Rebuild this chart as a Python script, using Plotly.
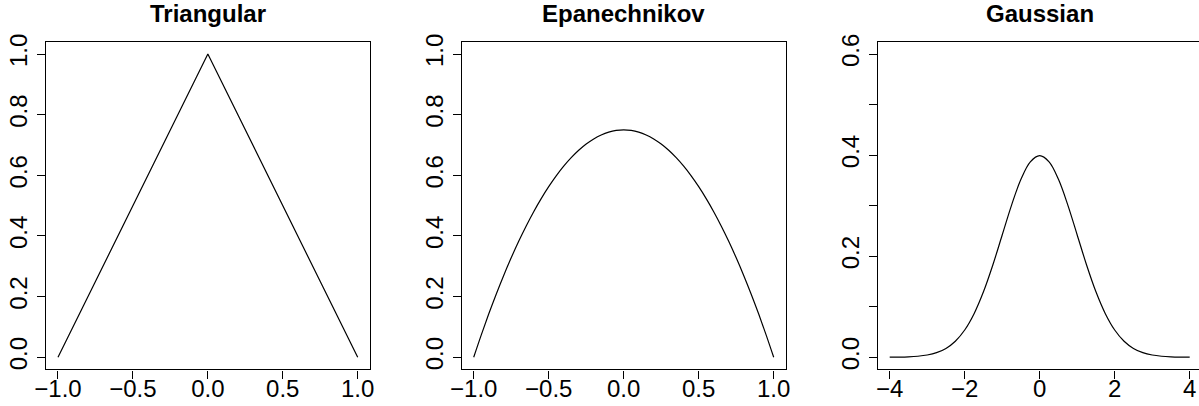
import plotly.graph_objects as go

# ---- data ----
tri_x = [-1.0, 0.0, 1.0]
tri_y = [0.0, 1.0, 0.0]

epa_x = [-1.0, -0.95, -0.9, -0.85, -0.8, -0.75, -0.7, -0.65, -0.6, -0.55, -0.5, -0.45, -0.4, -0.35, -0.3, -0.25, -0.2, -0.15, -0.1, -0.05,
         0.0, 0.05, 0.1, 0.15, 0.2, 0.25, 0.3, 0.35, 0.4, 0.45, 0.5, 0.55, 0.6, 0.65, 0.7, 0.75, 0.8, 0.85, 0.9, 0.95, 1.0]
epa_y = [0.0, 0.0731, 0.1425, 0.2081, 0.27, 0.3281, 0.3825, 0.4331, 0.48, 0.5231, 0.5625, 0.5981, 0.63, 0.6581, 0.6825, 0.7031, 0.72, 0.7331, 0.7425, 0.7481,
         0.75, 0.7481, 0.7425, 0.7331, 0.72, 0.7031, 0.6825, 0.6581, 0.63, 0.5981, 0.5625, 0.5231, 0.48, 0.4331, 0.3825, 0.3281, 0.27, 0.2081, 0.1425, 0.0731, 0.0]

gau_x = [-4.0, -3.75, -3.5, -3.25, -3.0, -2.75, -2.5, -2.25, -2.0, -1.75, -1.5, -1.25, -1.0, -0.75, -0.5, -0.25,
         0.0, 0.25, 0.5, 0.75, 1.0, 1.25, 1.5, 1.75, 2.0, 2.25, 2.5, 2.75, 3.0, 3.25, 3.5, 3.75, 4.0]
gau_y = [0.00013, 0.00035, 0.00087, 0.00203, 0.00443, 0.00909, 0.01753, 0.03174, 0.05399, 0.08628, 0.12952, 0.18265, 0.24197, 0.30114, 0.35207, 0.38667,
         0.39894, 0.38667, 0.35207, 0.30114, 0.24197, 0.18265, 0.12952, 0.08628, 0.05399, 0.03174, 0.01753, 0.00909, 0.00443, 0.00203, 0.00087, 0.00035, 0.00013]

titles = ["Triangular", "Epanechnikov", "Gaussian"]

x12_ticks = [-1.0, -0.5, 0.0, 0.5, 1.0]
x12_text = ["\u22121.0", "\u22120.5", "0.0", "0.5", "1.0"]
y12_ticks = [0.0, 0.2, 0.4, 0.6, 0.8, 1.0]
y12_text = ["0.0", "0.2", "0.4", "0.6", "0.8", "1.0"]
x3_ticks = [-4, -2, 0, 2, 4]
x3_text = ["\u22124", "\u22122", "0", "2", "4"]
y3_ticks = [0.0, 0.1, 0.2, 0.3, 0.4, 0.5, 0.6]
y3_text = ["0.0", "", "0.2", "", "0.4", "", "0.6"]

# ---- layout ----
W, H = 1199, 406
FONT = "Liberation Sans, Arial, Helvetica, sans-serif"
top_px, bot_px = 41.9, 369.4
ydom = [(H - bot_px) / H, (H - top_px) / H]
xdoms = [[46.0 / W, 369.7 / W], [461.7 / W, 785.7 / W], [877.7 / W, 1.0]]
title_cx = [(46.0 + 369.7) / 2 / W, (461.7 + 785.7) / 2 / W, (877.7 + 1201.7) / 2 / W]

fig = go.Figure()
line = dict(color="black", width=1.2)
fig.add_trace(go.Scatter(x=tri_x, y=tri_y, mode="lines", line=line, xaxis="x", yaxis="y"))
fig.add_trace(go.Scatter(x=epa_x, y=epa_y, mode="lines", line=dict(line, shape="spline"), xaxis="x2", yaxis="y2"))
fig.add_trace(go.Scatter(x=gau_x, y=gau_y, mode="lines", line=dict(line, shape="spline"), xaxis="x3", yaxis="y3"))

tickfont = dict(family=FONT, size=24, color="black")

def xax(dom, rng, tv, tt, anchor, mirror=True):
    return dict(domain=dom, range=rng, tickvals=tv, ticktext=tt, anchor=anchor, automargin=False,
                showline=True, linecolor="black", linewidth=1.2, mirror=mirror,
                ticks="outside", ticklen=8, tickwidth=1.2, tickcolor="black",
                showgrid=False, zeroline=False, tickfont=tickfont, tickangle=0,
                ticklabelstandoff=-10)

def yax(rng, tv, tt, anchor, mirror=True):
    return dict(domain=ydom, range=rng, tickvals=tv, ticktext=tt, anchor=anchor, automargin=False,
                showline=True, linecolor="black", linewidth=1.2, mirror=mirror,
                ticks="outside", ticklen=8, tickwidth=1.2, tickcolor="black",
                showgrid=False, zeroline=False, tickfont=tickfont, tickangle=-90)

gx_right = -4.32 + (W - 877.7) / 37.5

fig.update_layout(
    width=W, height=H, margin=dict(l=0, r=0, t=0, b=0, pad=0), autosize=False,
    paper_bgcolor="white", plot_bgcolor="white", showlegend=False,
    xaxis=xax(xdoms[0], [-1.08, 1.08], x12_ticks, x12_text, "y"),
    yaxis=yax([-0.04, 1.04], y12_ticks, y12_text, "x"),
    xaxis2=xax(xdoms[1], [-1.08, 1.08], x12_ticks, x12_text, "y2"),
    yaxis2=yax([-0.04, 1.04], y12_ticks, y12_text, "x2"),
    xaxis3=xax(xdoms[2], [-4.32, gx_right], x3_ticks, x3_text, "y3"),
    yaxis3=yax([-0.024, 0.624], y3_ticks, y3_text, "x3", mirror=False),
)

for t, cx in zip(titles, title_cx):
    fig.add_annotation(text="<b>" + t + "</b>", x=cx, y=1 - 13 / H, xref="paper", yref="paper",
                       xanchor="center", yanchor="middle", showarrow=False,
                       font=dict(family=FONT, size=24, color="black"))

fig.write_html("out.html")
